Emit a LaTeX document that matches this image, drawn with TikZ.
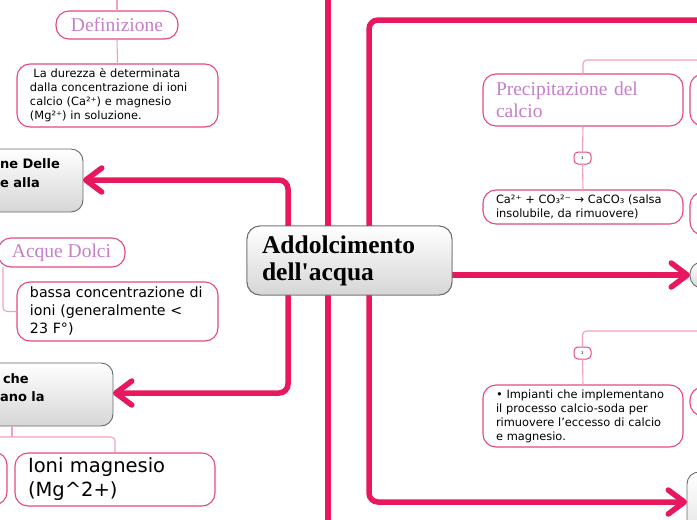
\documentclass[tikz,border=0pt]{standalone}
\usepackage{fontspec}
\setmainfont{Liberation Serif}
\setsansfont{DejaVu Sans}
\usetikzlibrary{arrows.meta}
\definecolor{thickc}{RGB}{232,24,96}
\definecolor{boxpink}{RGB}{228,72,130}
\definecolor{thinpink}{RGB}{242,160,190}
\definecolor{serifpurple}{RGB}{196,128,200}
\definecolor{grayborder}{RGB}{105,105,105}
\definecolor{graybot}{RGB}{214,214,214}
\begin{document}
\begin{tikzpicture}[x=1pt,y=-1pt,
  every node/.style={outer sep=0pt},
  pinkbox/.style={draw=boxpink,line width=1.1pt,fill=white,rounded corners=13pt,inner xsep=13pt,inner ysep=0pt,align=left},
  graybox/.style={draw=grayborder,line width=0.9pt,rounded corners=12pt,top color=white,bottom color=graybot,inner sep=0pt},
  sanssmall/.style={font=\sffamily\fontsize{11.4}{14}\selectfont},
  sansmid/.style={font=\sffamily\fontsize{14.2}{18}\selectfont},
  sansbig/.style={font=\sffamily\fontsize{19.5}{24}\selectfont},
  seriftitle/.style={font=\fontsize{19.5}{22.5}\selectfont,text=serifpurple},
  graytext/.style={font=\sffamily\bfseries\fontsize{13}{18}\selectfont,inner sep=0pt,anchor=base west},
  thinline/.style={draw=thinpink,line width=1.1pt,rounded corners=4pt},
  thickline/.style={draw=thickc,line width=5.5pt,rounded corners=9pt,line cap=round},
  arr/.style={-{Straight Barb[length=16pt,width=24pt,round]}},
  badge/.style={draw=boxpink,line width=1pt,fill=white,rounded corners=4pt,minimum width=17pt,minimum height=12pt,inner sep=0pt,font=\sffamily\fontsize{4}{4}\selectfont},
]
\useasboundingbox (0,0) rectangle (697,520);

% background thick lines passing behind the central node
\coordinate (t1) at (328,0);
\coordinate (b1) at (328,520);
\draw[thickline] (t1) -- (b1);

\coordinate (t2) at (700,20);
\coordinate (c2) at (369,20);
\coordinate (b2) at (369,502);

% ---------- left side ----------
\coordinate (deftop) at (117,0);
\node[pinkbox,seriftitle,minimum width=122pt,minimum height=28pt,align=center,inner xsep=0pt] (defi) at (117,25) {Definizione};
\node[pinkbox,sanssmall,minimum width=201pt,minimum height=63pt,text width=175pt] (deftext) at (117.5,95.5) {\hspace*{3.5pt}La durezza è determinata\\dalla concentrazione di ioni\\calcio (Ca²⁺) e magnesio\\(Mg²⁺) in soluzione.};
\draw[thinline] (deftop) -- (defi.north);
\draw[thinline] (defi.south) -- (deftext.north);

\node[graybox,minimum width=143pt,minimum height=63pt] (g1) at (11.5,180.5) {};
\node[graytext] (g1a) at (0,168) {ne Delle};
\node[graytext] (g1b) at (0,187) {e alla};

\node[pinkbox,seriftitle,minimum width=127pt,minimum height=29pt,align=center,inner xsep=0pt] (dolci) at (61.5,252.5) {Acque Dolci};
\node[pinkbox,sansmid,minimum width=201pt,minimum height=59pt,text width=175pt] (bassa) at (117.5,311.5) {bassa concentrazione di\\ioni (generalmente <\\23 F°)};
\coordinate (dk) at (3,311.5);
\draw[thinline] (dolci.south -| dk) -- (dk) -- (bassa.west);

\node[graybox,minimum width=173pt,minimum height=63pt] (g2) at (26.5,394.5) {};
\node[graytext] (g2a) at (3,383) {che};
\node[graytext] (g2b) at (0,401) {ano la};

\node[pinkbox,minimum width=67pt,minimum height=53pt] (calc) at (-26.5,478.5) {};
\node[pinkbox,sansbig,minimum width=200pt,minimum height=53pt,text width=174pt] (magn) at (115,479.5) {Ioni magnesio\\(Mg\textasciicircum 2+)};
\coordinate (hl) at (-10,437);
\coordinate (hk) at (12,437);
\draw[thinline] (hl) -- (hl -| magn.north) -- (magn.north);
\draw[thinline] (g2.south -| hk) -- (hk);

% ---------- centre ----------
\node[graybox,rounded corners=13pt,minimum width=205pt,minimum height=69pt,text width=175pt,inner xsep=15pt,align=left,font=\bfseries\fontsize{25.5}{27}\selectfont] (central) at (349.5,260.5) {Addolcimento\\dell\textquotesingle acqua};

% ---------- right side ----------
\node[pinkbox,seriftitle,minimum width=200pt,minimum height=52pt,text width=174pt] (prec) at (583,100) {Precipitazione del\\calcio};
\node[badge] (bd1) at (582.5,158) {1};
\node[pinkbox,sanssmall,minimum width=200pt,minimum height=34pt,text width=174pt] (eq) at (583,207) {\mbox{Ca²⁺ + CO₃²⁻ → CaCO₃ (salsa}\\insolubile, da rimuovere)};
\coordinate (pt) at (700,60);
\draw[thinline] (pt) -- (pt -| prec.north) -- (prec.north);
\draw[thinline] (prec.south) -- (bd1.north);
\draw[thinline] (bd1.south) -- (eq.north);

\node[pinkbox,minimum width=80pt,minimum height=52pt] (pr1) at (730,100) {};
\node[pinkbox,minimum width=80pt,minimum height=43pt] (pr2) at (730,213.5) {};
\node[graybox,minimum width=70pt,minimum height=26pt] (circ) at (725,275) {};

\node[badge] (bd2) at (582.5,353) {1};
\node[pinkbox,sanssmall,minimum width=200pt,minimum height=62pt,text width=174pt] (impi) at (583,416) {\mbox{• Impianti che implementano}\\il processo calcio-soda per\\\mbox{rimuovere l’eccesso di calcio}\\e magnesio.};
\coordinate (qt) at (700,331);
\draw[thinline] (qt) -- (qt -| bd2.north) -- (bd2.north);
\draw[thinline] (bd2.south) -- (impi.north);
\node[pinkbox,minimum width=80pt,minimum height=29pt] (pr3) at (730,401.5) {};

\node[graybox,minimum width=93pt,minimum height=98pt] (bgray) at (733.5,521) {};

% ---------- thick connectors ----------
\coordinate (k1) at (288,180);
\coordinate (k2) at (288,393);
\draw[thickline,arr] (central.north -| k1) -- (k1) -- (k1 -| g1.east);
\draw[thickline,arr] (central.south -| k2) -- (k2) -- (k2 -| g2.east);
\draw[thickline,arr] (central.east |- circ.west) -- (circ.west);
\draw[thickline,arr] (t2) -- (c2) -- (b2) -- (b2 -| bgray.west);

% redraw central node on top of the background lines
\node[graybox,rounded corners=13pt,minimum width=205pt,minimum height=69pt,text width=175pt,inner xsep=15pt,align=left,font=\bfseries\fontsize{25.5}{27}\selectfont] (central2) at (central) {Addolcimento\\dell\textquotesingle acqua};
\end{tikzpicture}
\end{document}
